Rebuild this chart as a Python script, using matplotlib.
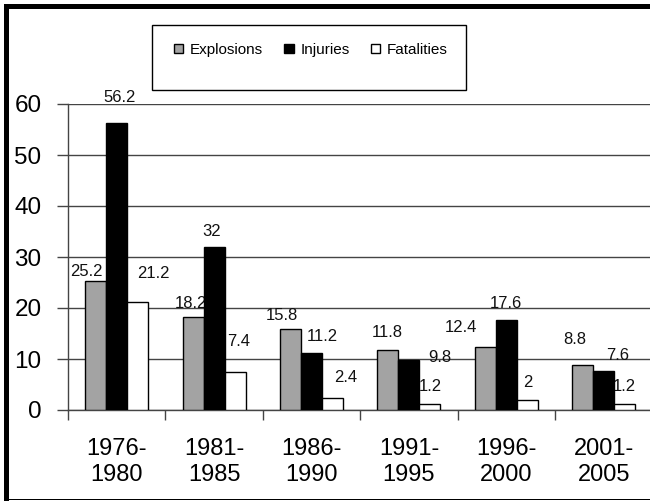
import numpy as np
import matplotlib.pyplot as plt
from matplotlib.patches import Rectangle, Patch

plt.rcParams['font.family'] = ['Liberation Sans', 'DejaVu Sans']

periods = ["1976-\n1980", "1981-\n1985", "1986-\n1990", "1991-\n1995", "1996-\n2000", "2001-\n2005"]
explosions = [25.2, 18.2, 15.8, 11.8, 12.4, 8.8]
injuries = [56.2, 32, 11.2, 9.8, 17.6, 7.6]
fatalities = [21.2, 7.4, 2.4, 1.2, 2, 1.2]

series = [("Explosions", explosions, "#A3A3A3"),
          ("Injuries", injuries, "#000000"),
          ("Fatalities", fatalities, "#FFFFFF")]

# label nudges in pixels (dx, dy), mimicking where Excel left them
label_nudge = [
    [(-9, 10), (-2, 14), (-9, 14), (-1, 17), (-24, 19), (-8, 26)],
    [(3, 26), (-2, 15), (11, 16), (31, 3), (0, 17), (14, 16)],
    [(16, 28), (3, 31), (13, 20), (0, 17), (0, 17), (0, 17)],
]

W, H = 650, 501
fig = plt.figure(figsize=(W / 100, H / 100), dpi=100)
ax = fig.add_axes([68 / W, (H - 410) / H, 584.4 / W, 306 / H])

x = np.arange(len(periods))
bw = 0.216
for k, (name, vals, col) in enumerate(series):
    pos = x + (k - 1) * bw
    ax.bar(pos, vals, width=bw, color=col, edgecolor="black", linewidth=1, zorder=3, label=name)
    for xi, v, (dx, dy) in zip(pos, vals, label_nudge[k]):
        ax.annotate(f"{v:g}", xy=(xi, v), xytext=(dx, dy), textcoords="offset pixels",
                    ha="center", va="center", fontsize=12, color="#111111", zorder=2.5)

ax.set_xlim(-0.5, len(periods) - 0.5)
ax.set_ylim(0, 60)
ax.set_yticks(range(0, 61, 10))
ax.yaxis.grid(True, color="#444444", linewidth=1, zorder=0)
ax.set_axisbelow(True)
ax.tick_params(axis="y", labelsize=17.5, length=8, width=1, color="#444444", pad=11)

ax.set_xticks(np.arange(len(periods) + 1) - 0.5)
ax.set_xticklabels([])
ax.set_xticks(x, minor=True)
ax.set_xticklabels(periods, minor=True, fontsize=17, linespacing=1.25)
ax.tick_params(axis="x", which="major", length=7, width=1, color="#444444")
ax.tick_params(axis="x", which="minor", length=0, pad=20)

for s in ("top", "right"):
    ax.spines[s].set_visible(False)
for s in ("left", "bottom"):
    ax.spines[s].set_color("#444444")
    ax.spines[s].set_linewidth(1)

# legend box drawn by hand, legend itself frameless
fig.add_artist(Rectangle((152 / W, 1 - 90 / H), 314 / W, 65 / H, transform=fig.transFigure,
                         fill=False, edgecolor="black", linewidth=1))
handles = [Patch(facecolor=c, edgecolor="black", linewidth=1) for _, _, c in series]
fig.legend(handles, [n for n, _, _ in series], loc="center", bbox_to_anchor=(311 / W, 1 - 50 / H),
           ncol=3, frameon=False, fontsize=11, handlelength=0.6, handleheight=0.6,
           handletextpad=0.45, columnspacing=1.4)

# outer border: thick top/left, thin bottom
fig.add_artist(Rectangle((4 / W, 1 - 9 / H), 1, 5 / H, transform=fig.transFigure, color="black", lw=0))
fig.add_artist(Rectangle((4 / W, 0), 5 / W, 1 - 4 / H, transform=fig.transFigure, color="black", lw=0))
fig.add_artist(Rectangle((4 / W, 1 / H), 1, 1.5 / H, transform=fig.transFigure, color="black", lw=0))

fig.savefig("out.png", dpi=100)
